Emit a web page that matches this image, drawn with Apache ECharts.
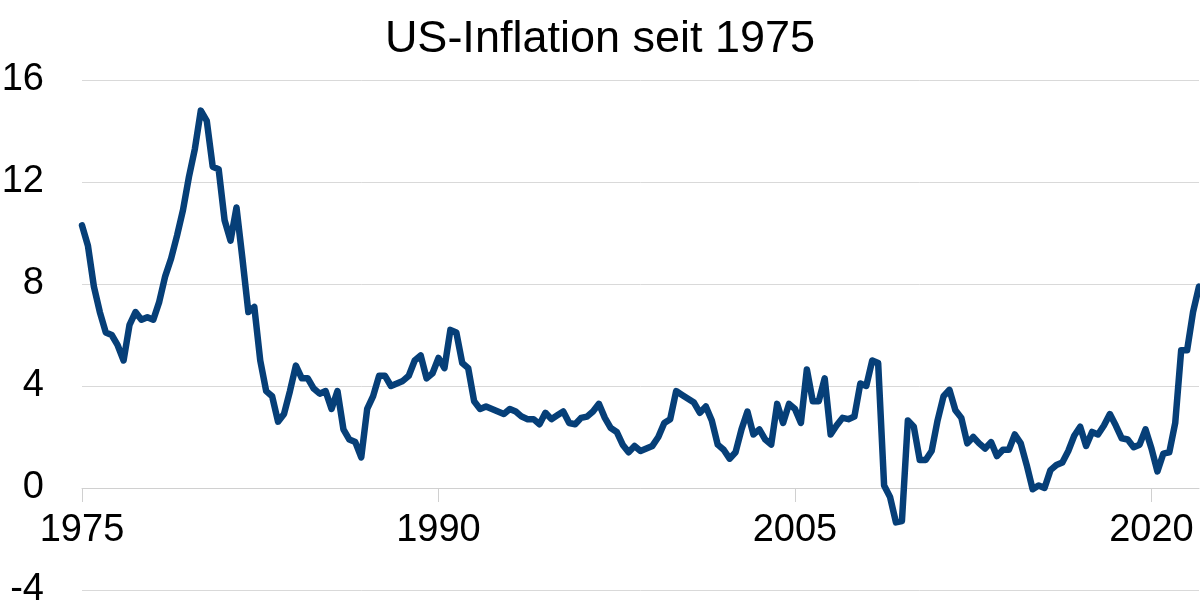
<!DOCTYPE html>
<html>
<head>
<meta charset="utf-8">
<script src="https://cdn.jsdelivr.net/npm/echarts@6/dist/echarts.min.js"></script>
<style>
html,body{margin:0;padding:0;background:#fff;}
#chart{width:1200px;height:614px;}
</style>
</head>
<body>
<div id="chart"></div>
<script>
// Quarterly US CPI inflation (% y/y), 1975 Q1 – 2022 Q1
const startYear = 1975;
const inflation = [
  10.3, 9.5, 7.9, 6.9, 6.1, 6.0, 5.6, 5.0, 6.4, 6.9,
  6.6, 6.7, 6.6, 7.3, 8.3, 9.0, 9.9, 10.9, 12.2, 13.3,
  14.8, 14.4, 12.6, 12.5, 10.5, 9.7, 11.0, 9.0, 6.9, 7.1,
  5.0, 3.8, 3.6, 2.6, 2.9, 3.8, 4.8, 4.3, 4.3, 3.9,
  3.7, 3.8, 3.1, 3.8, 2.3, 1.9, 1.8, 1.2, 3.1, 3.6,
  4.4, 4.4, 4.0, 4.1, 4.2, 4.4, 5.0, 5.2, 4.3, 4.5,
  5.1, 4.7, 6.2, 6.1, 4.9, 4.7, 3.4, 3.1, 3.2, 3.1,
  3.0, 2.9, 3.1, 3.0, 2.8, 2.7, 2.7, 2.5, 2.95, 2.7,
  2.85, 3.0, 2.55, 2.5, 2.75, 2.8, 3.0, 3.3, 2.75, 2.35,
  2.2, 1.7, 1.4, 1.65, 1.45, 1.55, 1.65, 2.0, 2.55, 2.7,
  3.8, 3.65, 3.5, 3.35, 2.95, 3.2, 2.65, 1.7, 1.5, 1.15,
  1.4, 2.3, 3.0, 2.1, 2.3, 1.9, 1.7, 3.3, 2.55, 3.3,
  3.1, 2.55, 4.65, 3.4, 3.4, 4.3, 2.1, 2.45, 2.75, 2.7,
  2.8, 4.1, 4.0, 5.0, 4.9, 0.1, -0.35, -1.35, -1.3, 2.65,
  2.4, 1.1, 1.1, 1.45, 2.65, 3.6, 3.85, 3.05, 2.75, 1.75,
  2.0, 1.75, 1.55, 1.8, 1.25, 1.5, 1.5, 2.1, 1.75, 0.9,
  -0.05, 0.1, 0.0, 0.7, 0.9, 1.0, 1.45, 2.05, 2.4, 1.65,
  2.2, 2.1, 2.45, 2.9, 2.45, 1.95, 1.9, 1.6, 1.7, 2.3,
  1.55, 0.65, 1.35, 1.4, 2.55, 5.4, 5.4, 6.9, 7.9
];
const quarters = [];
for (let i = 0; i < inflation.length; i++) {
  quarters.push((startYear + Math.floor(i / 4)) + ' Q' + (i % 4 + 1));
}
const yTicks = [-4, 0, 4, 8, 12, 16];
const titleText = 'US-Inflation seit 1975';

const font = '"Liberation Sans", Arial, Helvetica, sans-serif';
const gridTop = 80, gridBottom = 24, H = 614;
const plotH = H - gridTop - gridBottom;
const yMin = yTicks[0], yMax = yTicks[yTicks.length - 1];
// move the category axis up to the zero line
const zeroOffset = -plotH * (0 - yMin) / (yMax - yMin);

const chart = echarts.init(document.getElementById('chart'), null, {renderer: 'canvas'});
chart.setOption({
  animation: false,
  backgroundColor: '#ffffff',
  title: {
    text: titleText,
    left: 'center',
    top: 12,
    textStyle: {fontFamily: font, fontSize: 45, fontWeight: 'normal', color: '#000'}
  },
  grid: {left: 82, right: 1, top: gridTop, bottom: gridBottom, containLabel: false, outerBoundsMode: 'none'},
  xAxis: {
    type: 'category',
    data: quarters,
    boundaryGap: false,
    position: 'bottom',
    offset: zeroOffset,
    axisLine: {onZero: false, lineStyle: {color: '#d0d0d0', width: 1}},
    axisTick: {show: true, interval: 59, length: 14, lineStyle: {color: '#d0d0d0'}},
    axisLabel: {
      interval: 59,
      margin: 24,
      fontFamily: font,
      fontSize: 38,
      color: '#000',
      formatter: v => v.slice(0, 4)
    },
    splitLine: {show: false}
  },
  yAxis: {
    type: 'value',
    min: yMin,
    max: yMax,
    interval: 4,
    axisLine: {show: false},
    axisTick: {show: false},
    axisLabel: {margin: 38, fontFamily: font, fontSize: 38, color: '#000'},
    splitLine: {lineStyle: {color: '#d9d9d9', width: 1}}
  },
  series: [{
    type: 'line',
    data: inflation,
    symbol: 'none',
    lineStyle: {color: '#063f78', width: 6.5, join: 'round', cap: 'round'},
    itemStyle: {color: '#063f78'}
  }]
});
</script>
</body>
</html>
